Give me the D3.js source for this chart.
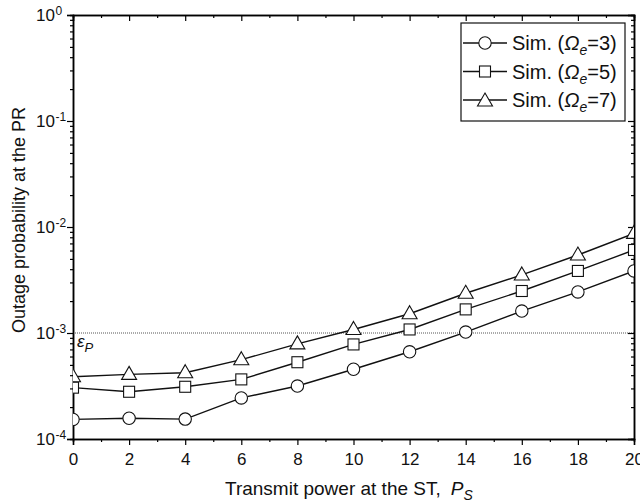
<!DOCTYPE html>
<html>
<head>
<meta charset="utf-8">
<script src="https://cdn.jsdelivr.net/npm/d3@7"></script>
<style>
  body { margin: 0; background: #fff; }
  text { font-family: Arial, "Liberation Sans", sans-serif; }
</style>
</head>
<body>
<svg id="chart" width="640" height="503"></svg>
<script>
// transmit power values
const power = [0, 2, 4, 6, 8, 10, 12, 14, 16, 18, 20]

const omega3 = [1.53e-4, 1.57e-4, 1.54e-4, 2.44e-4, 3.16e-4, 4.55e-4, 6.65e-4, 1.02e-3, 1.61e-3, 2.44e-3, 3.85e-3]
const omega5 = [3.05e-4, 2.79e-4, 3.11e-4, 3.65e-4, 5.3e-4, 7.8e-4, 1.08e-3, 1.67e-3, 2.49e-3, 3.85e-3, 6.07e-3]
const omega7 = [3.87e-4, 4.07e-4, 4.22e-4, 5.6e-4, 7.9e-4, 1.08e-3, 1.52e-3, 2.37e-3, 3.53e-3, 5.44e-3, 8.7e-3]

const seriesNames = ['3', '5', '7']
const seriesShapes = ['circle', 'square', 'triangle']
const xTicks = [0, 2, 4, 6, 8, 10, 12, 14, 16, 18, 20]
const yTicks = [1e-4, 1e-3, 1e-2, 1e-1, 1]
const epsP = 1e-3

const svg = d3.select('#chart')
const pLeft = 73, pRight = 634, pTop = 15, pBottom = 439

const x = d3.scaleLinear().domain([0, 20]).range([pLeft, pRight])
const y = d3.scaleLog().domain([1e-4, 1]).range([pBottom, pTop])

svg.append('defs').append('clipPath').attr('id', 'clip')
    .append('rect')
    .attr('x', pLeft).attr('y', pTop)
    .attr('width', pRight - pLeft).attr('height', pBottom - pTop)

// threshold line
svg.append('line')
    .attr('x1', pLeft).attr('x2', pRight)
    .attr('y1', y(epsP)).attr('y2', y(epsP))
    .attr('stroke', '#555')
    .attr('stroke-width', 1)
    .attr('stroke-dasharray', '1,1')

svg.append('text')
    .attr('x', pLeft + 4).attr('y', y(epsP) + 14)
    .style('font-size', '17px').style('font-style', 'italic').attr('fill', '#111')
    .text('ε')
    .append('tspan').attr('dy', 5).style('font-size', '13px').text('P')

// minor ticks for log axis
const minor = []
for (let e = -4; e < 0; e++) {
    for (let k = 2; k <= 9; k++) minor.push(k * Math.pow(10, e))
}
const xMinor = d3.range(1, 20, 2)

const axes = svg.append('g')
// bottom
axes.append('g')
    .attr('transform', `translate(0,${pBottom})`)
    .call(d3.axisBottom(x).tickValues(xTicks).tickSize(6).tickPadding(8).tickFormat(d3.format('d')))
axes.append('g')
    .attr('transform', `translate(0,${pBottom})`)
    .call(d3.axisBottom(x).tickValues(xMinor).tickSize(3).tickFormat(''))
// top
axes.append('g')
    .attr('transform', `translate(0,${pTop})`)
    .call(d3.axisBottom(x).tickValues(xTicks).tickSize(6).tickFormat(''))
axes.append('g')
    .attr('transform', `translate(0,${pTop})`)
    .call(d3.axisBottom(x).tickValues(xMinor).tickSize(3).tickFormat(''))
// left
axes.append('g')
    .attr('transform', `translate(${pLeft},0)`)
    .call(d3.axisLeft(y).tickValues(yTicks).tickSize(6).tickFormat(''))
axes.append('g')
    .attr('transform', `translate(${pLeft},0)`)
    .call(d3.axisLeft(y).tickValues(minor).tickSize(3).tickFormat(''))
// right
axes.append('g')
    .attr('transform', `translate(${pRight},0)`)
    .call(d3.axisLeft(y).tickValues(yTicks).tickSize(6).tickFormat(''))
axes.append('g')
    .attr('transform', `translate(${pRight},0)`)
    .call(d3.axisLeft(y).tickValues(minor).tickSize(3).tickFormat(''))

axes.selectAll('.domain').attr('stroke', '#000').attr('stroke-width', 1.5)
axes.selectAll('.tick line').attr('stroke', '#000').attr('stroke-width', 1.2)
axes.selectAll('.tick text').style('font-size', '17px').style('font-family', 'Arial, "Liberation Sans", sans-serif').attr('fill', '#111')

// y tick labels 10^n
yTicks.forEach(v => {
    svg.append('text')
        .attr('x', 55).attr('y', y(v) + 6)
        .attr('text-anchor', 'end')
        .style('font-size', '17px').attr('fill', '#111')
        .text('10')
    svg.append('text')
        .attr('x', 55.5).attr('y', y(v) + 0)
        .style('font-size', '12px').attr('fill', '#111')
        .text(Math.round(Math.log10(v)))
})

// axis titles
svg.append('text')
    .attr('x', 225).attr('y', 495)
    .style('font-size', '19px').attr('fill', '#111')
    .text('Transmit power at the ST,')
    .append('tspan').attr('dx', 10).style('font-style', 'italic').text('P')
    .append('tspan').attr('dy', 5).style('font-size', '14px').text('S')

svg.append('text')
    .attr('transform', `translate(25,220) rotate(-90)`)
    .attr('text-anchor', 'middle')
    .style('font-size', '18px').attr('fill', '#111')
    .text('Outage probability at the PR')

const data = [omega3, omega5, omega7]
const line = d3.line().x((d, i) => x(power[i])).y(d => y(d))

function drawMarker(g, shape, cx, cy) {
    if (shape === 'circle') {
        g.append('circle').attr('cx', cx).attr('cy', cy).attr('r', 6.2)
            .attr('fill', '#fff').attr('stroke', '#111').attr('stroke-width', 1.1)
    } else if (shape === 'square') {
        g.append('rect').attr('x', cx - 5.5).attr('y', cy - 5.5).attr('width', 11).attr('height', 11)
            .attr('fill', '#fff').attr('stroke', '#111').attr('stroke-width', 1.1)
    } else {
        g.append('path')
            .attr('d', `M${cx},${cy - 8}L${cx + 7.5},${cy + 5}L${cx - 7.5},${cy + 5}Z`)
            .attr('fill', '#fff').attr('stroke', '#111').attr('stroke-width', 1.1)
    }
}

const plot = svg.append('g').attr('clip-path', 'url(#clip)')
data.forEach((s, k) => {
    plot.append('path')
        .datum(s)
        .attr('d', line)
        .attr('fill', 'none')
        .attr('stroke', '#111')
        .attr('stroke-width', 1.4)
    s.forEach((v, i) => drawMarker(plot, seriesShapes[k], x(power[i]), y(v)))
})

// legend
const leg = svg.append('g')
leg.append('rect')
    .attr('x', 461).attr('y', 23).attr('width', 164).attr('height', 98)
    .attr('fill', '#fff').attr('stroke', '#111').attr('stroke-width', 1.2)
seriesNames.forEach((n, k) => {
    const ly = 43 + k * 28.5
    leg.append('line').attr('x1', 463).attr('x2', 507).attr('y1', ly).attr('y2', ly)
        .attr('stroke', '#111').attr('stroke-width', 1.4)
    drawMarker(leg, seriesShapes[k], 485, ly + (seriesShapes[k] === 'triangle' ? 1 : 0))
    const t = leg.append('text').attr('x', 512).attr('y', ly + 7)
        .style('font-size', '20px').attr('fill', '#111')
    t.append('tspan').text('Sim. (')
    t.append('tspan').style('font-style', 'italic').text('Ω')
    t.append('tspan').style('font-style', 'italic').style('font-size', '14px').attr('dy', 5).text('e')
    t.append('tspan').attr('dy', -5).text('=' + n + ')')
})
</script>
</body>
</html>
